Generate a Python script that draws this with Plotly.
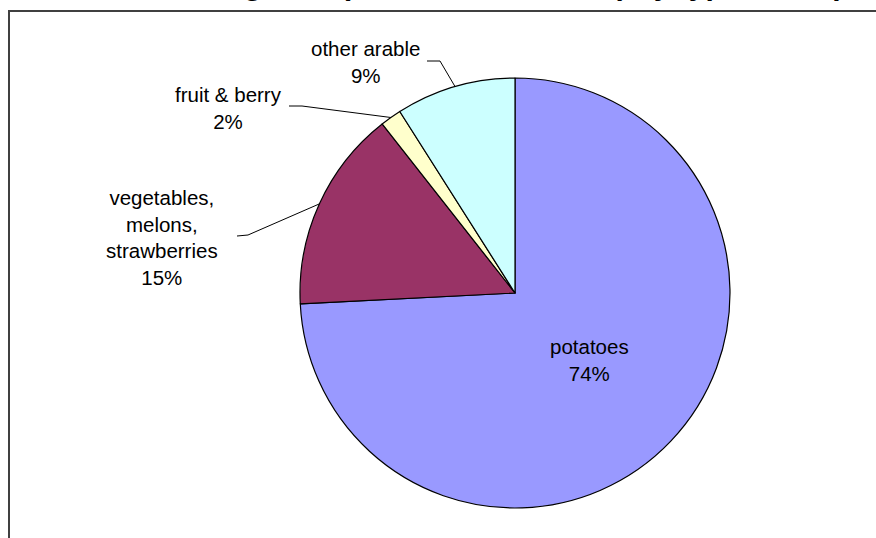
import math
import plotly.graph_objects as go

# Share of the sown area by crop type (percent)
crops = ["potatoes", "vegetables,<br>melons,<br>strawberries", "fruit & berry", "other arable"]
shares = [74.2, 15.2, 1.6, 9.0]
colors = ["#9999FF", "#993366", "#FFFFCC", "#CCFFFF"]
title_text = "Harvesting area (thousand hectares) by type of crop"

W, H = 876, 538
CX, CY, R = 515, 293, 215          # pie centre and radius in pixels

# label block centres and leader elbows (pixels)
label_pos = [(589, 360), (162, 237), (228, 108), (365, 62)]
elbows = [None, [(237, 236), (248, 235)], [(289, 106), (302, 106)], [(427, 61), (440, 61)]]
FONT = "Liberation Sans, Arial, sans-serif"


def px(x, y):
    return x / W, 1 - y / H


fig = go.Figure()
fig.add_trace(go.Pie(
    values=shares,
    labels=[c.replace("<br>", " ") for c in crops],
    marker=dict(colors=colors, line=dict(color="#000000", width=1.2)),
    sort=False,
    direction="clockwise",
    rotation=0,
    textinfo="none",
    hoverinfo="label+percent",
    showlegend=False,
    domain=dict(x=[(CX - R) / W, (CX + R) / W], y=[1 - (CY + R) / H, 1 - (CY - R) / H]),
))

total = sum(shares)
annotations = []
shapes = []
cum = 0.0
for name, v, pos, elbow in zip(crops, shares, label_pos, elbows):
    pct = round(v / total * 100)
    mid = (cum + v / 2) / total * 2 * math.pi    # clockwise from 12 o'clock
    cum += v
    lx, ly = px(*pos)
    annotations.append(dict(
        x=lx, y=ly, xref="paper", yref="paper", showarrow=False,
        text=f"{name}<br>{pct}%", align="center",
        xanchor="center", yanchor="middle",
        font=dict(family=FONT, size=20.5, color="#000000"),
    ))
    if elbow:
        ex = CX + R * math.sin(mid)
        ey = CY - R * math.cos(mid)
        pts = elbow + [(ex, ey)]
        path = "M " + " L ".join(f"{x/W},{1 - y/H}" for x, y in pts)
        shapes.append(dict(type="path", xref="paper", yref="paper", path=path,
                           line=dict(color="#000000", width=1)))

# chart frame
shapes.append(dict(type="rect", xref="paper", yref="paper",
                   x0=9 / W, x1=1.05, y0=-0.05, y1=1 - 11 / H,
                   line=dict(color="#404040", width=2), fillcolor="rgba(0,0,0,0)",
                   layer="below"))

# title, mostly above the visible page
annotations.append(dict(
    x=853 / W, y=1 - 3 / H, xref="paper", yref="paper", showarrow=False,
    text=f"<b>{title_text}</b>", xanchor="right", yanchor="bottom",
    font=dict(family=FONT, size=30, color="#000000"),
))

fig.update_layout(
    width=W, height=H,
    margin=dict(l=0, r=0, t=0, b=0),
    paper_bgcolor="#FFFFFF", plot_bgcolor="#FFFFFF",
    annotations=annotations, shapes=shapes,
)

fig.write_html("out.html")
